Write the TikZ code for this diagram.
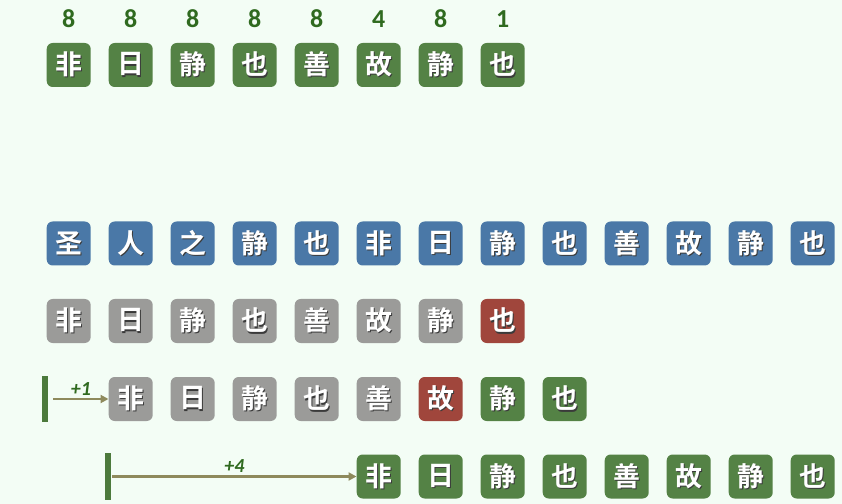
\documentclass[tikz,border=0pt]{standalone}
\usepackage{fontspec}
\setmainfont{Carlito}
\newfontfamily\cjk{Noto Sans CJK SC}[BoldFont={Noto Sans CJK SC Bold}]
\usetikzlibrary{arrows.meta}
\definecolor{bg}{HTML}{F3FDF5}
\definecolor{gbox}{HTML}{548245}
\definecolor{bbox}{HTML}{4A78A7}
\definecolor{xbox}{HTML}{9B9B99}
\definecolor{rbox}{HTML}{A0463C}
\definecolor{numc}{HTML}{2F6A1F}
\definecolor{arrc}{HTML}{8E8A5C}
\definecolor{barc}{HTML}{4C7A3C}
\definecolor{shc}{HTML}{3A3A3A}
\newcommand{\tokshadow}[1]{\rlap{\hspace{1.2pt}\raisebox{-1.2pt}{\textcolor{shc}{#1}}}#1}
\tikzset{
  tok/.style={rounded corners=6bp, minimum width=44bp, minimum height=44bp,
    inner sep=0pt, text=white, font=\cjk\bfseries\fontsize{27}{27}\selectfont},
  gtok/.style={tok, fill=gbox},
  btok/.style={tok, fill=bbox},
  xtok/.style={tok, fill=xbox},
  rtok/.style={tok, fill=rbox},
  numlab/.style={text=numc, font=\bfseries\fontsize{26}{26}\selectfont},
  shiftlab/.style={text=numc, font=\bfseries\itshape\fontsize{20}{20}\selectfont},
  shiftarr/.style={draw=arrc, line width=2.4bp, -{Triangle[length=8bp,width=8bp]}},
  barbox/.style={fill=barc, minimum width=6bp, minimum height=46bp, inner sep=0pt},
}
\begin{document}
\begin{tikzpicture}[x=1bp,y=-1bp]
\fill[bg] (0,0) rectangle (842,504);
\useasboundingbox (0,0) rectangle (842,504);
% row 1
\foreach \c/\n [count=\i from 0] in {非/8,日/8,静/8,也/8,善/8,故/4,静/8,也/1}{
  \node[gtok] (a\i) at (68.7+62*\i,65) {\tokshadow{\c}};
  \node[numlab] (an\i) at (68.7+62*\i,19) {\n};
}
% row 2
\foreach \c [count=\i from 0] in {圣,人,之,静,也,非,日,静,也,善,故,静,也}{
  \node[btok] (b\i) at (68.7+62*\i,243.5) {\tokshadow{\c}};
}
% row 3
\foreach \c/\s [count=\i from 0] in {非/xtok,日/xtok,静/xtok,也/xtok,善/xtok,故/xtok,静/xtok,也/rtok}{
  \node[\s] (c\i) at (68.7+62*\i,321) {\tokshadow{\c}};
}
% row 4
\foreach \c/\s [count=\i from 0] in {非/xtok,日/xtok,静/xtok,也/xtok,善/xtok,故/rtok,静/gtok,也/gtok}{
  \node[\s] (d\i) at (130.7+62*\i,399) {\tokshadow{\c}};
}
% row 5
\foreach \c [count=\i from 0] in {非,日,静,也,善,故,静,也}{
  \node[gtok] (e\i) at (378.7+62*\i,476.5) {\tokshadow{\c}};
}
% shift markers
\node[barbox] (bar1) at (45.3,399) {};
\draw[shiftarr] (bar1.east) ++(5,0) coordinate (s1) -- (d0.west) node[midway, above=-1bp, shiftlab] {+1};
\node[barbox, minimum height=47bp] (bar2) at (107.5,476.5) {};
\draw[shiftarr] (bar2.east) ++(1.5,0) coordinate (s2) -- (e0.west) node[midway, above=-1bp, shiftlab] {+4};
\end{tikzpicture}
\end{document}
